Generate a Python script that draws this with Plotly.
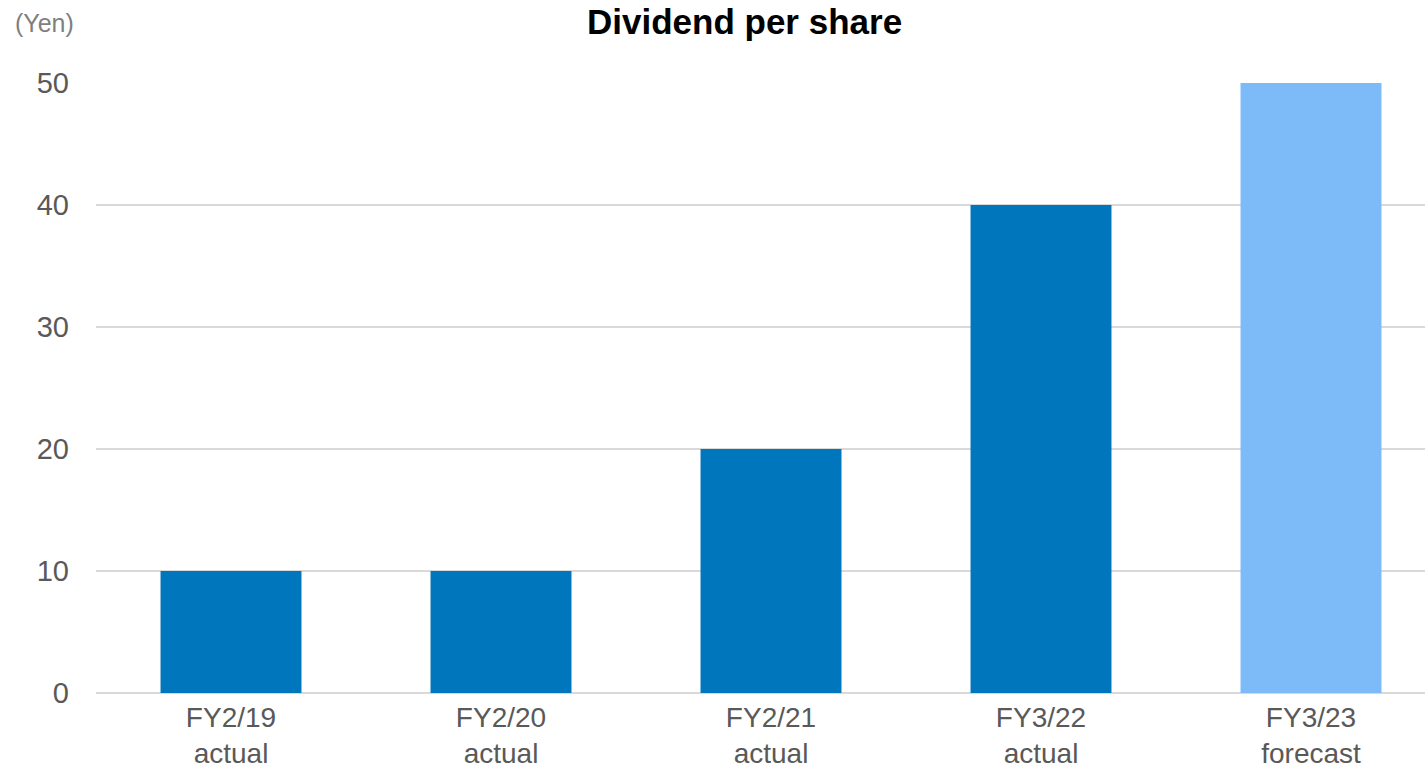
import plotly.graph_objects as go

categories = ["FY2/19<br>actual", "FY2/20<br>actual", "FY2/21<br>actual", "FY3/22<br>actual", "FY3/23<br>forecast"]
dividends = [10, 10, 20, 40, 50]
bar_colors = ["#0076BD", "#0076BD", "#0076BD", "#0076BD", "#7DBAF8"]
y_ticks = [0, 10, 20, 30, 40, 50]

W, H = 1425, 774
L, R, T, B = 96, 0, 83, 81

fig = go.Figure(go.Bar(
    x=list(range(len(categories))), y=dividends,
    marker=dict(color=bar_colors, line=dict(width=0)),
    width=0.522,
))

plot_w = W - L - R
plot_h = H - T - B
units = plot_w / 270.0

fig.update_layout(
    width=W, height=H,
    margin=dict(l=L, r=R, t=T, b=B, pad=0, autoexpand=False),
    paper_bgcolor="white", plot_bgcolor="white",
    font=dict(family="Liberation Sans, Arial, sans-serif", color="#595959", size=29),
    showlegend=False,
    xaxis=dict(
        range=[-0.5, -0.5 + units],
        tickmode="array", tickvals=list(range(len(categories))), ticktext=categories,
        showgrid=False, zeroline=False, showline=False, ticks="",
        ticklabelstandoff=5, automargin=False,
        tickfont=dict(size=28, color="#595959"),
        fixedrange=True,
    ),
    yaxis=dict(
        range=[0, 50], tickmode="array", tickvals=y_ticks,
        showgrid=True, gridcolor="#D9D9D9", gridwidth=2,
        zeroline=True, zerolinecolor="#D9D9D9", zerolinewidth=2,
        showline=False, ticks="", ticklabelstandoff=26, automargin=False,
        tickfont=dict(size=29, color="#595959"),
        fixedrange=True,
    ),
    annotations=[
        dict(text="<b>Dividend per share</b>", xref="paper", yref="paper",
             x=(744 - L) / plot_w, y=1 + T / plot_h,
             xanchor="center", yanchor="top", showarrow=False,
             font=dict(size=35, color="#000000", family="Liberation Sans, Arial, sans-serif")),
        dict(text="(Yen)", xref="paper", yref="paper",
             x=-(L - 13) / plot_w, y=1 + (T - 23) / plot_h,
             xanchor="left", yanchor="middle", showarrow=False,
             font=dict(size=25, color="#7F7F7F")),
    ],
)

fig.write_html("out.html")
